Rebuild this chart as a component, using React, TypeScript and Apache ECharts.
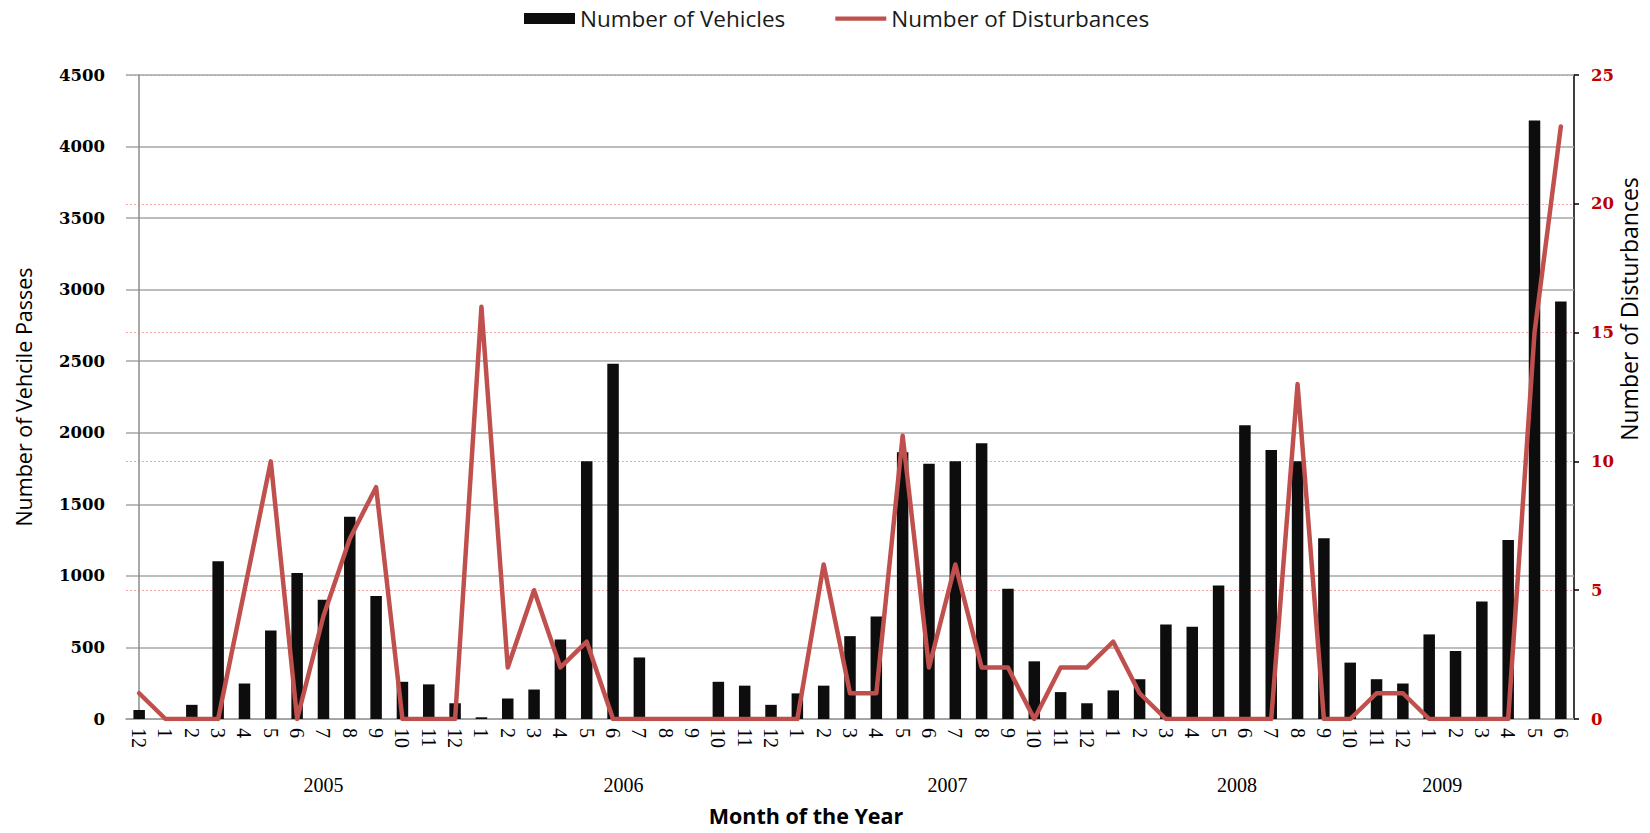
import React, { useEffect, useRef } from "react";
import * as echarts from "echarts";

const monthLabels = [
  "12",
  "1", "2", "3", "4", "5", "6", "7", "8", "9", "10", "11", "12",
  "1", "2", "3", "4", "5", "6", "7", "8", "9", "10", "11", "12",
  "1", "2", "3", "4", "5", "6", "7", "8", "9", "10", "11", "12",
  "1", "2", "3", "4", "5", "6", "7", "8", "9", "10", "11", "12",
  "1", "2", "3", "4", "5", "6",
];

const vehicles = [
  63,
  0, 99, 1102, 248, 618, 1021, 833, 1413, 860, 260, 242, 110,
  12, 143, 206, 556, 1801, 2482, 430, 0, 0, 260, 233, 99,
  179, 233, 579, 717, 1864, 1783, 1801, 1927, 911, 403, 188, 110,
  200, 278, 660, 645, 932, 2052, 1879, 1801, 1263, 394, 278, 248,
  591, 475, 821, 1251, 4182, 2918,
];

const disturbances = [
  1,
  0, 0, 0, 5, 10, 0, 4, 7, 9, 0, 0, 0,
  16, 2, 5, 2, 3, 0, 0, 0, 0, 0, 0, 0,
  0, 6, 1, 1, 11, 2, 6, 2, 2, 0, 2, 2,
  3, 1, 0, 0, 0, 0, 0, 13, 0, 0, 1, 1,
  0, 0, 0, 0, 15, 23,
];

const yearLabels = ["2005", "2006", "2007", "2008", "2009"];
const yearLabelPositions = [7.0, 18.4, 30.7, 41.7, 49.5];

const leftTicks = { min: 0, max: 4500, interval: 500 };
const rightTicks = { min: 0, max: 25, interval: 5 };

export default function App() {
  const ref = useRef<HTMLDivElement>(null);

  useEffect(() => {
    document.body.style.margin = "0";
    if (!ref.current) return;
    const chart = echarts.init(ref.current, null, { renderer: "svg" });

    const yearMap: Record<string, string> = {};
    yearLabelPositions.forEach((p, i) => {
      yearMap[String(p)] = yearLabels[i];
    });

    const serifBold = "DejaVu Serif";
    const sans = "Open Sans";

    chart.setOption({
      animation: false,
      backgroundColor: "#ffffff",
      legend: {
        top: 7,
        left: 524,
        padding: 0,
        itemWidth: 51,
        itemHeight: 11,
        itemGap: 50,
        symbolKeepAspect: true,
        textStyle: { fontFamily: sans, fontSize: 22.5, color: "#1a1a1a" },
        data: [
          { name: "Number of Vehicles", icon: "rect" },
          { name: "Number of Disturbances", icon: "path://M0,0H60V5H0Z" },
        ],
      },
      grid: { left: 126, right: 76, top: 75, bottom: 114, containLabel: false },
      xAxis: [
        {
          type: "category",
          data: monthLabels,
          boundaryGap: true,
          axisLine: { show: true, lineStyle: { color: "#8c8c8c", width: 1.5 } },
          axisTick: { show: false },
          axisLabel: {
            interval: 0,
            rotate: -90,
            margin: 9,
            fontFamily: "Liberation Serif",
            fontSize: 20,
            color: "#000",
          },
          splitLine: { show: false },
        },
        {
          type: "value",
          position: "bottom",
          min: -0.5,
          max: 54.5,
          axisLine: { show: false },
          axisTick: { show: false },
          splitLine: { show: false },
          axisLabel: {
            customValues: yearLabelPositions,
            margin: 56,
            fontFamily: "Liberation Serif",
            fontSize: 20,
            color: "#000",
            formatter: (v: number) => yearMap[String(v)] || "",
          },
        },
      ],
      yAxis: [
        {
          type: "value",
          ...leftTicks,
          z: 1,
          name: "Number of Vehcile Passes",
          nameLocation: "middle",
          nameGap: 92,
          nameTextStyle: { fontFamily: sans, fontSize: 21.5, color: "#000" },
          axisLine: { show: true, lineStyle: { color: "#8c8c8c", width: 1.5 } },
          axisTick: { show: false },
          axisLabel: {
            margin: 21,
            fontFamily: serifBold,
            fontWeight: "bold",
            fontSize: 16.5,
            color: "#000",
            formatter: (v: number) => String(v),
          },
          splitLine: { show: true, lineStyle: { color: "#a6a6a6", width: 1.5 } },
        },
        {
          type: "value",
          ...rightTicks,
          z: 0,
          position: "right",
          axisLine: { show: true, lineStyle: { color: "#000", width: 1.5 } },
          axisTick: { show: true, inside: false, length: 5, lineStyle: { color: "#000", width: 1.5 } },
          axisLabel: {
            margin: 17,
            fontFamily: serifBold,
            fontWeight: "bold",
            fontSize: 16.5,
            color: "#c00000",
            formatter: (v: number) => String(v),
          },
          splitLine: {
            show: true,
            lineStyle: { color: "#f4a6a6", width: 1, type: [2, 2] },
          },
        },
      ],
      graphic: [
        {
          type: "text",
          x: 806,
          y: 815,
          style: {
            text: "Month of the Year",
            fontFamily: sans,
            fontWeight: "bold",
            fontSize: 21.5,
            fill: "#000",
            align: "center",
            verticalAlign: "middle",
          },
        },
        {
          type: "text",
          x: 1629,
          y: 309,
          rotation: Math.PI / 2,
          style: {
            text: "Number of Disturbances",
            fontFamily: sans,
            fontSize: 23,
            fill: "#000",
            align: "center",
            verticalAlign: "middle",
          },
        },
      ],
      series: [
        {
          name: "Number of Vehicles",
          type: "bar",
          xAxisIndex: 0,
          yAxisIndex: 0,
          data: vehicles,
          barWidth: 11.5,
          itemStyle: { color: "#0d0d0d" },
          z: 2,
        },
        {
          name: "Number of Disturbances",
          type: "line",
          xAxisIndex: 0,
          yAxisIndex: 1,
          data: disturbances,
          symbol: "none",
          lineStyle: { color: "#c0504d", width: 4.5, join: "round", cap: "round" },
          itemStyle: { color: "#c0504d" },
          z: 3,
        },
      ],
    });

    return () => chart.dispose();
  }, []);

  return <div ref={ref} style={{ width: 1650, height: 833 }} />;
}
